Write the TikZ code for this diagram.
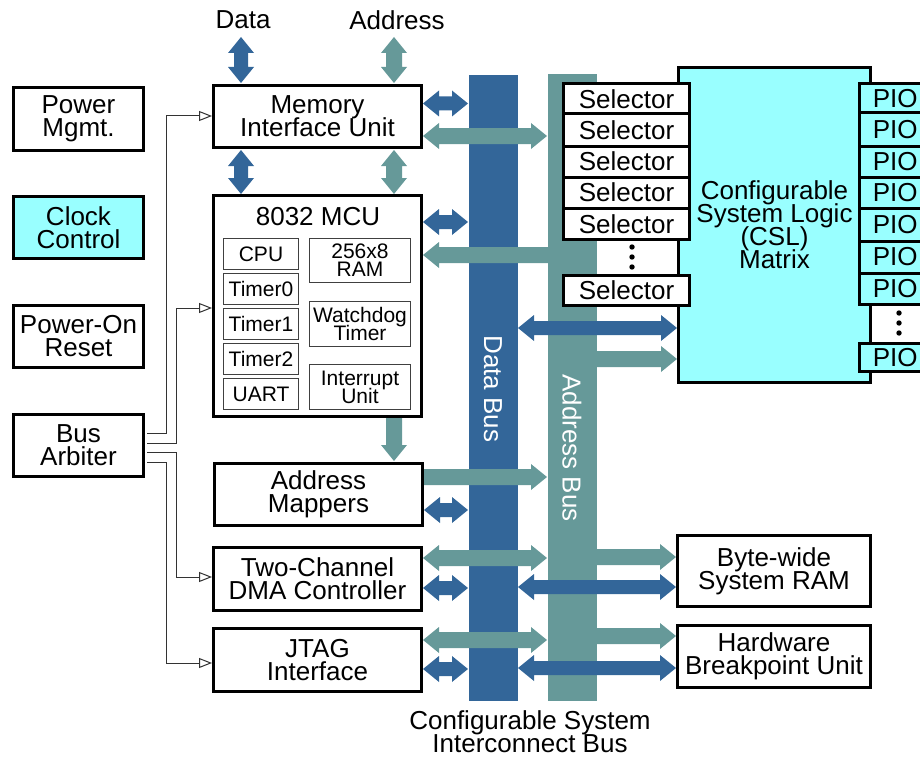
\documentclass[tikz,border=0pt]{standalone}
\usepackage{fontspec}
\setmainfont{Liberation Sans}
\usetikzlibrary{arrows.meta}
\definecolor{busblue}{HTML}{336699}
\definecolor{busteal}{HTML}{669999}
\definecolor{cslcyan}{HTML}{99FFFF}
\newcommand\tightlines{\lineskiplimit=-40pt\relax}
% box by outer corners: name, x1, y1, x2, y2, inset, style, text
\newcommand\bx[8]{\node[#7, minimum width={(#4)-(#2)-(#6)}, minimum height={(#5)-(#3)-(#6)}] (#1) at ({((#2)+(#4))/2},{((#3)+(#5))/2}) {#8};}
% fat arrows: hl=16, half head width 13, half shaft width #4
\newcommand\hdbl[5]{\fill[#5] (#1,#3) -- (#1+16,#3-13) -- (#1+16,#3-#4) -- (#2-16,#3-#4) -- (#2-16,#3-13) -- (#2,#3) -- (#2-16,#3+13) -- (#2-16,#3+#4) -- (#1+16,#3+#4) -- (#1+16,#3+13) -- cycle;}
\newcommand\hright[5]{\fill[#5] (#1,#3-#4) -- (#2-16,#3-#4) -- (#2-16,#3-13) -- (#2,#3) -- (#2-16,#3+13) -- (#2-16,#3+#4) -- (#1,#3+#4) -- cycle;}
\newcommand\hleft[5]{\fill[#5] (#2,#3-#4) -- (#1+16,#3-#4) -- (#1+16,#3-13) -- (#1,#3) -- (#1+16,#3+13) -- (#1+16,#3+#4) -- (#2,#3+#4) -- cycle;}
\newcommand\vdbl[5]{\fill[#5] (#1,#2) -- (#1+13,#2+16) -- (#1+#4,#2+16) -- (#1+#4,#3-16) -- (#1+13,#3-16) -- (#1,#3) -- (#1-13,#3-16) -- (#1-#4,#3-16) -- (#1-#4,#2+16) -- (#1-13,#2+16) -- cycle;}
\newcommand\vdown[5]{\fill[#5] (#1-#4,#2) -- (#1+#4,#2) -- (#1+#4,#3-16) -- (#1+13,#3-16) -- (#1,#3) -- (#1-13,#3-16) -- (#1-#4,#3-16) -- cycle;}
\begin{document}
\tightlines
\begin{tikzpicture}[x=1pt,y=-1pt,
  every node/.style={font=\fontsize{26}{23}\selectfont\tightlines, inner sep=0pt, align=center},
  box/.style={draw=black, line width=3pt, fill=white},
  cbox/.style={box, fill=cslcyan},
  ibox/.style={draw=black!75, line width=1pt, fill=white, font=\fontsize{21}{18}\selectfont\tightlines},
  conn/.style={draw=black!80, line width=1pt, -{Triangle[open,length=13pt,width=10pt]}},
  buslabel/.style={rotate=-90, text=white},
]
\useasboundingbox (0,0) rectangle (920,757);
\clip (0,0) rectangle (920,757);

% buses
\node[fill=busblue, minimum width=49pt, minimum height=626pt] (dbus) at (493.5,388) {};
\node[fill=busteal, minimum width=49pt, minimum height=627pt] (abus) at (572.5,387.5) {};

% address (teal) arrows
\vdbl{394}{37}{83}{8}{busteal}
\vdbl{394}{150}{194}{8}{busteal}
\hdbl{423}{547}{136}{8}{busteal}
\hleft{423}{590}{255}{8}{busteal}
\hright{590}{677}{359}{8}{busteal}
\vdown{394}{417}{461}{8}{busteal}
\hright{423}{547}{477}{8}{busteal}
\hdbl{423}{547}{558}{8}{busteal}
\hright{590}{676}{557}{8}{busteal}
\hdbl{423}{547}{640}{8}{busteal}
\hright{590}{676}{636}{8}{busteal}

% data (blue) arrows
\vdbl{241}{37}{83}{7}{busblue}
\vdbl{241}{150}{194}{7}{busblue}
\hdbl{423}{468}{103.5}{7}{busblue}
\hdbl{423}{468}{222}{7}{busblue}
\hdbl{518}{677}{328}{7}{busblue}
\hdbl{424}{468}{510}{7}{busblue}
\hdbl{423}{468}{588}{7}{busblue}
\hdbl{518}{676}{587}{7}{busblue}
\hdbl{423}{468}{669}{7}{busblue}
\hdbl{518}{676}{668}{7}{busblue}

% left column
\bx{pwr}{12}{86}{145}{152}{3}{box}{Power\\Mgmt.}
\bx{clk}{12}{195}{145}{260}{3}{cbox}{Clock\\Control}
\bx{por}{12}{304}{145}{369}{3}{box}{Power-On\\Reset}
\bx{arb}{12}{413}{145}{478}{3}{box}{Bus\\Arbiter}

% middle column
\bx{miu}{212}{84}{423}{149}{3}{box}{Memory\\Interface Unit}
\bx{mcu}{212}{194}{423}{418}{3}{box}{}
\node (mcutitle) at (318,217) {8032 MCU};
\bx{cpu}{223}{238}{299}{270}{1}{ibox}{CPU}
\bx{tmr0}{223}{273}{299}{305}{1}{ibox}{Timer0}
\bx{tmr1}{223}{308}{299}{340}{1}{ibox}{Timer1}
\bx{tmr2}{223}{343}{299}{375}{1}{ibox}{Timer2}
\bx{uart}{223}{378}{299}{410}{1}{ibox}{UART}
\bx{iram}{309}{238}{411}{283}{1}{ibox}{256x8\\RAM}
\bx{wdog}{309}{301}{411}{347}{1}{ibox}{Watchdog\\Timer}
\bx{intr}{309}{364}{411}{410}{1}{ibox}{Interrupt\\Unit}
\bx{amap}{213}{462}{424}{527}{3}{box}{Address\\Mappers}
\bx{dma}{212}{546}{423}{612}{3}{box}{Two-Channel\\DMA Controller}
\bx{jtag}{212}{627}{423}{693}{3}{box}{JTAG\\Interface}

% right column
\bx{csl}{677}{66}{872}{384}{3}{cbox}{Configurable\\System Logic\\(CSL)\\Matrix}
\bx{sysram}{676}{534}{872}{608}{3}{box}{Byte-wide\\System RAM}
\bx{hbu}{676}{624}{872}{689}{3}{box}{Hardware\\Breakpoint Unit}

% selectors
\bx{sel1}{563.5}{83.5}{689.5}{114}{0}{box}{Selector}
\bx{sel2}{563.5}{114}{689.5}{146}{0}{box}{Selector}
\bx{sel3}{563.5}{146}{689.5}{177}{0}{box}{Selector}
\bx{sel4}{563.5}{177}{689.5}{208}{0}{box}{Selector}
\bx{sel5}{563.5}{208}{689.5}{239.5}{0}{box}{Selector}
\bx{sel6}{563.5}{275.5}{689.5}{305.5}{0}{box}{Selector}
\fill (632,247) circle[radius=2.7pt];
\fill (632,257) circle[radius=2.7pt];
\fill (632,267) circle[radius=2.7pt];

% PIOs
\bx{pio1}{859.5}{83.5}{931}{113}{0}{cbox}{PIO}
\bx{pio2}{859.5}{113}{931}{146}{0}{cbox}{PIO}
\bx{pio3}{859.5}{146}{931}{177}{0}{cbox}{PIO}
\bx{pio4}{859.5}{177}{931}{208}{0}{cbox}{PIO}
\bx{pio5}{859.5}{208}{931}{241}{0}{cbox}{PIO}
\bx{pio6}{859.5}{241}{931}{273}{0}{cbox}{PIO}
\bx{pio7}{859.5}{273}{931}{304.5}{0}{cbox}{PIO}
\bx{pio8}{859.5}{343.5}{931}{371.5}{0}{cbox}{PIO}
\fill (899,313) circle[radius=2.7pt];
\fill (899,323) circle[radius=2.7pt];
\fill (899,333) circle[radius=2.7pt];

% bus arbiter connectors
\draw[conn] (147,433) -| (166,116) -- (212,116);
\draw[conn] (147,443) -| (176,308) -- (212,308);
\draw[conn] (147,452) -| (176,577) -- (212,577);
\draw[conn] (147,462) -| (166,663) -- (212,663);

% labels
\node (lbldata) at (243,20) {Data};
\node (lbladdr) at (397,20) {Address};
\node[buslabel] (lbldbus) at (493,389) {Data Bus};
\node[buslabel] (lblabus) at (572,448) {Address Bus};
\node (lblcsib) at (530,732) {Configurable System\\Interconnect Bus};
\end{tikzpicture}
\end{document}
